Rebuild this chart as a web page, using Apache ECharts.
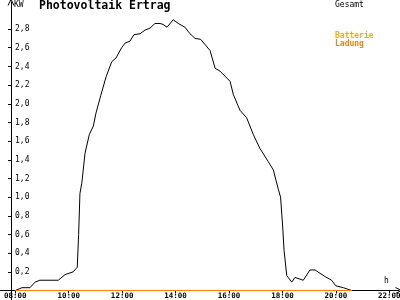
<!DOCTYPE html>
<html>
<head>
<meta charset="utf-8">
<script src="https://cdn.jsdelivr.net/npm/echarts@6/dist/echarts.min.js"></script>
<style>html,body{margin:0;padding:0;background:#fff}#c{width:400px;height:300px}</style>
</head>
<body>
<div id="c"></div>
<script>
// Data (time in decimal hours, power in kW)
var gesamtHours = [8.0, 8.25, 8.55, 8.74, 8.92, 9.61, 9.86, 10.17, 10.23, 10.32, 10.37, 10.42, 10.49, 10.61, 10.77, 10.92, 11.02, 11.2, 11.4, 11.61, 11.77, 11.98, 12.11, 12.29, 12.44, 12.67, 12.86, 13.04, 13.23, 13.42, 13.53, 13.68, 13.91, 14.1, 14.35, 14.54, 14.73, 14.94, 15.29, 15.48, 15.66, 16.04, 16.16, 16.41, 16.66, 16.91, 17.16, 17.47, 17.66, 17.85, 17.93, 18.01, 18.06, 18.16, 18.35, 18.47, 18.78, 19.03, 19.22, 19.59, 19.84, 20.0, 20.28, 20.59, 22.36];
var gesamtValues = [0, 0.03, 0.03, 0.09, 0.11, 0.11, 0.17, 0.2, 0.22, 0.25, 0.6, 1.04, 1.15, 1.47, 1.67, 1.76, 1.9, 2.09, 2.29, 2.45, 2.49, 2.6, 2.65, 2.67, 2.74, 2.75, 2.79, 2.81, 2.86, 2.86, 2.85, 2.82, 2.9, 2.86, 2.82, 2.75, 2.7, 2.69, 2.57, 2.38, 2.35, 2.24, 2.1, 1.93, 1.85, 1.67, 1.52, 1.38, 1.29, 1.08, 1.0, 0.68, 0.43, 0.16, 0.09, 0.14, 0.11, 0.22, 0.22, 0.15, 0.11, 0.05, 0.03, 0, 0];
var batterieHours = [8.0, 20.59];
var batterieValues = [0, 0];
var ladungHours = [8.0, 20.59];
var ladungValues = [0, 0];
var xTicks = [8, 10, 12, 14, 16, 18, 20, 22];
var yTicks = [0.2, 0.4, 0.6, 0.8, 1.0, 1.2, 1.4, 1.6, 1.8, 2.0, 2.2, 2.4, 2.6, 2.8];
var titleText = 'Photovoltaik Ertrag';
var yUnit = 'KW';
var xUnit = 'h';

function pairs(xs, ys) { return xs.map(function (x, i) { return [x, ys[i]]; }); }
function hh(v) { var h = Math.round(v); return (h < 10 ? '0' : '') + h + ':00'; }

var mono = 'DejaVu Sans Mono';
var arrow = 'path://M0,10 L5,0 L10,10 L8.6,10 L5,2.8 L1.4,10 Z';
var chart = echarts.init(document.getElementById('c'), null, {renderer: 'canvas'});
chart.setOption({
  animation: false,
  backgroundColor: '#ffffff',
  title: [
    {text: titleText, left: 39, top: 0, padding: 0, textStyle: {fontFamily: mono, fontWeight: 'bold', fontSize: 11.5, color: '#000'}},
    {text: yUnit, left: 14, top: 1, padding: 0, textStyle: {fontFamily: mono, fontWeight: 'normal', fontSize: 8, color: '#000'}},
    {text: xUnit, left: 384, top: 277, padding: 0, textStyle: {fontFamily: mono, fontWeight: 'normal', fontSize: 8, color: '#000'}}
  ],
  legend: [
    {data: [{name: 'Gesamt', textStyle: {color: '#000'}}], left: 330, top: 1, padding: 0, icon: 'none', itemWidth: 0, itemHeight: 8,
     textStyle: {fontFamily: mono, fontSize: 8, padding: 0}, selectedMode: false},
    {data: [{name: 'Batterie', textStyle: {color: '#ffaa00'}}, {name: 'Ladung', textStyle: {color: '#ff8000'}}], orient: 'vertical',
     left: 330, top: 32, padding: 0, itemGap: 0, icon: 'none', itemWidth: 0, itemHeight: 8,
     textStyle: {fontFamily: mono, fontSize: 8, fontWeight: 'bold', padding: 0}, selectedMode: false}
  ],
  graphic: [
    {type: 'line', shape: {x1: 11.5, y1: 290, x2: 11.5, y2: 300}, style: {stroke: '#000', lineWidth: 1}, silent: true}
  ],
  grid: {left: 0, right: 1, top: 2, bottom: 9.5, containLabel: false, outerBoundsMode: 'none'},
  xAxis: {
    type: 'value', min: 7.4273, max: 22.363,
    axisLine: {show: true, onZero: false, lineStyle: {color: '#000', width: 1}, symbol: ['none', arrow], symbolSize: [7, 7]},
    axisTick: {show: true, length: 3, customValues: xTicks, lineStyle: {color: '#000'}},
    axisLabel: {show: true, customValues: xTicks, formatter: hh, margin: 2, fontFamily: mono, fontWeight: 'bold', fontSize: 7.5, color: '#000'},
    splitLine: {show: false}
  },
  yAxis: {
    type: 'value', min: 0, max: 3.09, offset: -11,
    axisLine: {show: true, onZero: false, lineStyle: {color: '#000', width: 1}, symbol: ['none', arrow], symbolSize: [7, 7]},
    axisTick: {show: true, length: 3, customValues: yTicks, lineStyle: {color: '#000'}},
    axisLabel: {show: true, inside: true, margin: 4, customValues: yTicks, fontFamily: mono, fontSize: 8, color: '#000',
      formatter: function (v) { return v.toFixed(1).replace('.', ','); }},
    splitLine: {show: false}
  },
  series: [
    {name: 'Gesamt', type: 'line', data: pairs(gesamtHours, gesamtValues), showSymbol: false, symbol: 'none',
     lineStyle: {color: '#000', width: 1}, itemStyle: {color: '#000'}, z: 3},
    {name: 'Batterie', type: 'line', data: pairs(batterieHours, batterieValues), showSymbol: false, symbol: 'none',
     lineStyle: {color: '#ffaa00', width: 1}, itemStyle: {color: '#ffaa00'}, z: 4},
    {name: 'Ladung', type: 'line', data: pairs(ladungHours, ladungValues), showSymbol: false, symbol: 'none',
     lineStyle: {color: '#ff8000', width: 1}, itemStyle: {color: '#ff8000'}, z: 5}
  ]
});
</script>
</body>
</html>
